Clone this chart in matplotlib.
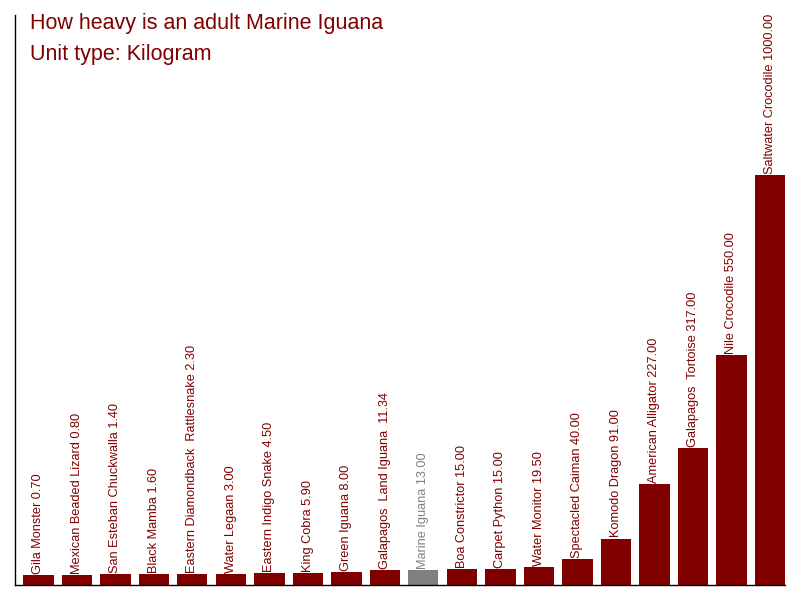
import matplotlib
matplotlib.use("Agg")
import matplotlib.pyplot as plt

plt.rcParams['font.family'] = ['Liberation Sans', 'DejaVu Sans']

names = ["Gila Monster", "Mexican Beaded Lizard", "San Esteban Chuckwalla", "Black Mamba",
         "Eastern Diamondback  Rattlesnake", "Water Legaan", "Eastern Indigo Snake", "King Cobra",
         "Green Iguana", "Galapagos  Land Iguana ", "Marine Iguana", "Boa Constrictor",
         "Carpet Python", "Water Monitor", "Spectacled Caiman", "Komodo Dragon",
         "American Alligator", "Galapagos  Tortoise", "Nile Crocodile", "Saltwater Crocodile"]
values = [0.70, 0.80, 1.40, 1.60, 2.30, 3.00, 4.50, 5.90, 8.00, 11.34, 13.00, 15.00,
          15.00, 19.50, 40.00, 91.00, 227.00, 317.00, 550.00, 1000.00]
highlight = "Marine Iguana"

RED = "#800000"
GREY = "#808080"
base = -25
top = 1400

fig = plt.figure(figsize=(8, 6), dpi=100)
ax = fig.add_axes([15/800, 15/600, 770/800, 570/600])

x = list(range(len(names)))
colors = [GREY if n == highlight else RED for n in names]
heights = [v - base for v in values]
ax.bar(x, heights, bottom=base, width=0.78, color=colors)

for xi, n, v, c in zip(x, names, values, colors):
    ax.annotate(f"{n} {v:.2f}", (xi, v), xytext=(0, 0.8), textcoords="offset points",
                rotation=90, ha="center", va="bottom", fontsize=9.2, color=c)

ax.set_xlim(-0.61, len(names) - 1 + 0.39)
ax.set_ylim(base, top)
ax.set_xticks([])
ax.set_yticks([])
for s in ["top", "right"]:
    ax.spines[s].set_visible(False)
for s in ["left", "bottom"]:
    ax.spines[s].set_color("black")
    ax.spines[s].set_linewidth(1)

fig.text(30/800, 1 - 29/600, "How heavy is an adult Marine Iguana", fontsize=15.5,
         color=RED, ha="left", va="baseline")
fig.text(30/800, 1 - 60/600, "Unit type: Kilogram", fontsize=15.5,
         color=RED, ha="left", va="baseline")

fig.savefig("out.png", dpi=100)
